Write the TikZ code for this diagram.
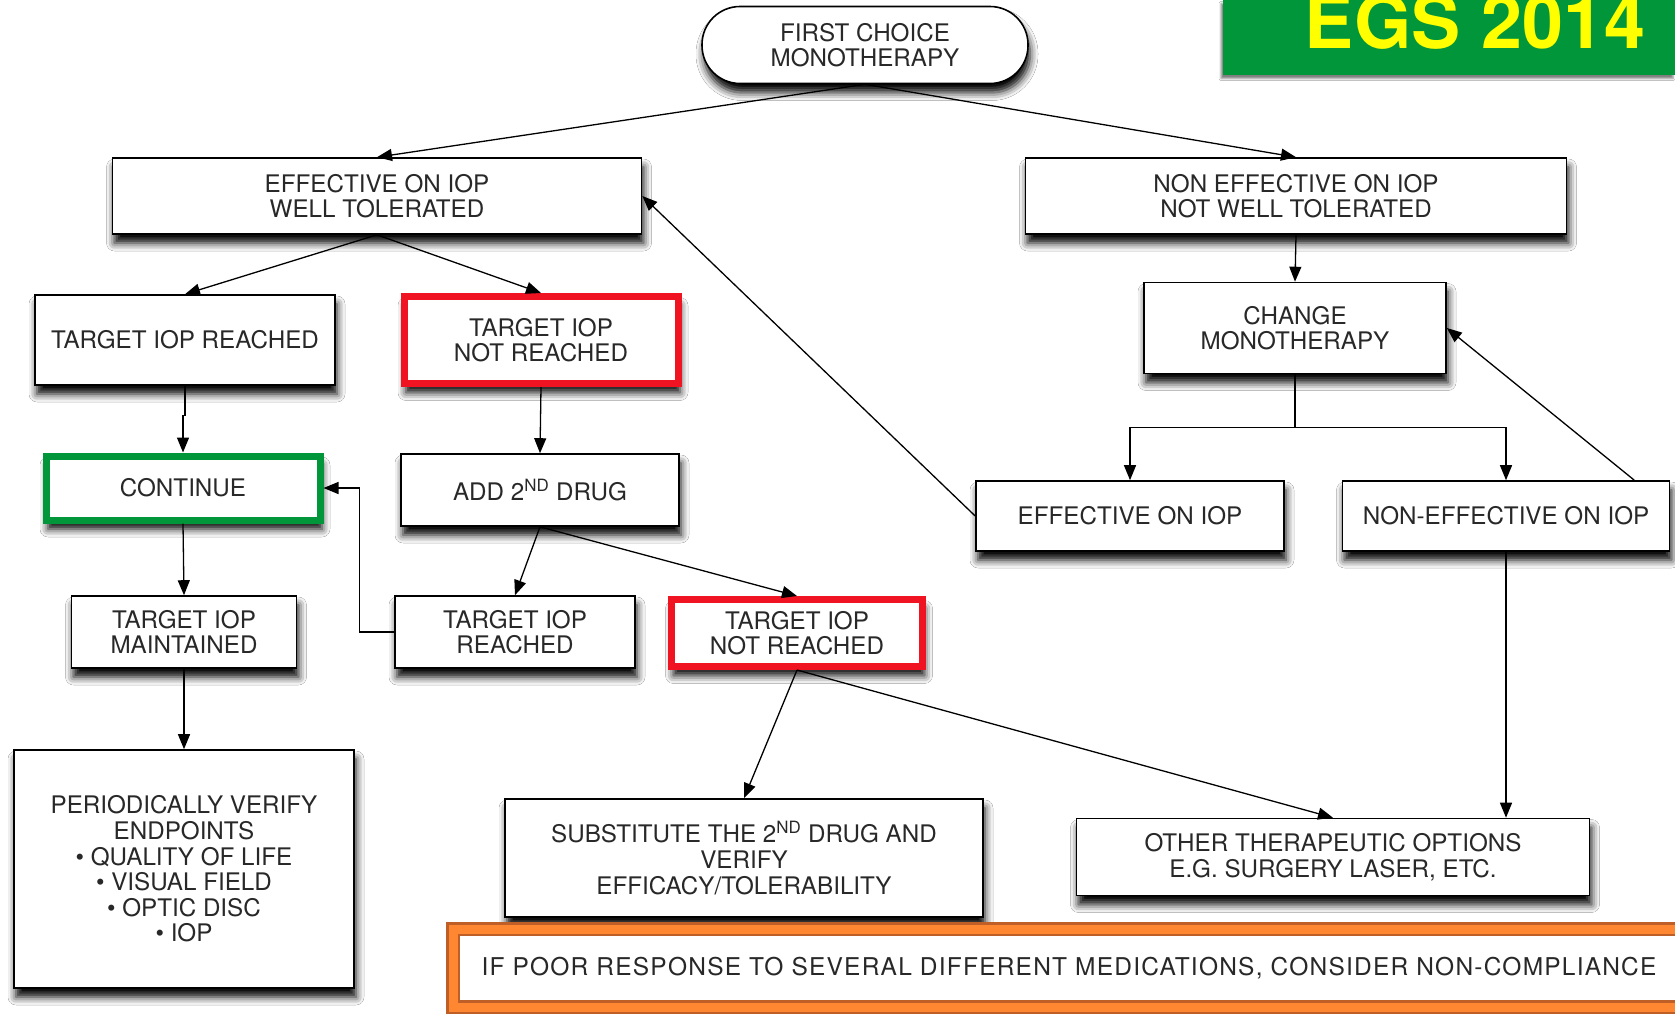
\documentclass[tikz,border=0pt]{standalone}
\usepackage{fontspec}
\setmainfont{TeX Gyre Heros}
\usepackage{tikz}
\usetikzlibrary{positioning,shapes,arrows.meta,calc,shadows,shadows.blur}
\definecolor{egsgreen}{RGB}{0,150,57}
\definecolor{egsyellow}{RGB}{255,255,0}
\definecolor{alertred}{RGB}{240,20,35}
\definecolor{noteorange}{RGB}{255,135,50}
\definecolor{notebrown}{RGB}{190,95,40}
\definecolor{textgrey}{RGB}{40,40,40}

\begin{document}
\begin{tikzpicture}[x=1pt, y=-1pt,
    >={Triangle[length=15pt, width=12pt]},
    box/.style={rectangle, draw, fill=white, line width=1.6pt, align=center, text=textgrey, inner sep=0pt,
        font=\fontsize{24.2}{25.6}\selectfont,
        blur shadow={shadow xshift=2pt, shadow yshift=-9pt, shadow blur radius=8pt, shadow opacity=100}},
    redbox/.style={box, draw=alertred, line width=7pt},
    greenbox/.style={box, draw=egsgreen, line width=7pt},
    link/.style={->, line width=1.3pt}]
    \useasboundingbox (0,0) rectangle (1675,1015);
    \fill[white] (0,0) rectangle (1675,1015);

    \node[box, rounded corners=38pt, minimum width=326pt, minimum height=77pt] (first) at (865,45) {FIRST CHOICE\\MONOTHERAPY};
    \node[rectangle, fill=egsgreen, minimum width=452pt, minimum height=75pt, inner sep=0pt,
        blur shadow={shadow xshift=-2pt, shadow yshift=-4pt, shadow blur radius=2pt, shadow opacity=50}] (egs) at (1449,37) {};
    \node[anchor=base, text=egsyellow, font=\fontsize{73.7}{80}\bfseries\selectfont, inner sep=0pt] (egslabel) at (1475,48) {EGS 2014};

    \node[box, minimum width=529pt, minimum height=76pt] (eff) at (377,196) {EFFECTIVE ON IOP\\WELL TOLERATED};
    \node[box, minimum width=541pt, minimum height=76pt] (noneff) at (1296,196) {NON EFFECTIVE ON IOP\\NOT WELL TOLERATED};
    \node[box, minimum width=300pt, minimum height=90pt] (reached) at (185,340) {TARGET IOP REACHED};
    \node[redbox, minimum width=274pt, minimum height=87pt] (notreached) at (541,340) {TARGET IOP\\NOT REACHED};
    \node[box, minimum width=302pt, minimum height=91pt] (change) at (1295,328) {CHANGE\\MONOTHERAPY};
    \node[greenbox, minimum width=274pt, minimum height=64pt] (continue) at (183,488) {CONTINUE};
    \node[box, minimum width=278pt, minimum height=72pt] (add) at (540,490) {ADD 2\textsuperscript{ND} DRUG};
    \node[box, minimum width=308pt, minimum height=70pt] (effiop) at (1130,516) {EFFECTIVE ON IOP};
    \node[box, minimum width=327pt, minimum height=70pt] (noneffiop) at (1506,516) {NON-EFFECTIVE ON IOP};
    \node[box, minimum width=225pt, minimum height=72pt] (maintained) at (184,632) {TARGET IOP\\MAINTAINED};
    \node[box, minimum width=240pt, minimum height=72pt] (reached2) at (515,632) {TARGET IOP\\REACHED};
    \node[redbox, minimum width=251pt, minimum height=67pt] (notreached2) at (797,633) {TARGET IOP\\NOT REACHED};
    \node[box, minimum width=340pt, minimum height=238pt] (verify) at (184,869) {PERIODICALLY VERIFY\\ENDPOINTS\\\textbullet\ QUALITY OF LIFE\\\textbullet\ VISUAL FIELD\\\textbullet\ OPTIC DISC\\\textbullet\ IOP};
    \node[box, minimum width=478pt, minimum height=118pt] (subst) at (744,858) {SUBSTITUTE THE 2\textsuperscript{ND} DRUG AND\\VERIFY\\EFFICACY/TOLERABILITY};
    \node[box, minimum width=513pt, minimum height=77pt] (other) at (1333,857) {OTHER THERAPEUTIC OPTIONS\\E.G. SURGERY LASER, ETC.};
    \node[rectangle, draw=notebrown, line width=2.5pt, double=noteorange, double distance=9pt, fill=white, text=textgrey,
        font=\fontsize{24.5}{25.6}\selectfont\addfontfeatures{LetterSpace=5}, minimum width=1232pt, minimum height=78pt] (poor) at (1069,968)
        {IF POOR RESPONSE TO SEVERAL DIFFERENT MEDICATIONS, CONSIDER NON-COMPLIANCE};

    \draw[link] (first.south) -- (eff.north);
    \draw[link] (first.south) -- (noneff.north);
    \draw[link] (eff.south) -- (reached.north);
    \draw[link] (eff.south) -- (notreached.north);
    \draw[link] (reached.south) -- ++(0,30) -| (continue.north);
    \draw[link] (notreached.south) -- (add.north);
    \draw[link] (continue.south) -- (maintained.north);
    \draw[link] (maintained.south) -- (verify.north);
    \draw[link] (add.south) -- (reached2.north);
    \draw[link] (add.south) -- (notreached2.north);
    \draw[link] (reached2.west) -- ++(-35,0) |- (continue.east);
    \draw[link] (notreached2.south) -- (subst.north);
    \draw[link] (notreached2.south) -- (other.north);
    \draw[link] (noneff.south) -- (change.north);
    \coordinate (split) at ($(change.south)+(0,53)$);
    \draw[link] (change.south) -- (split) -| (effiop.north);
    \draw[link] (split) -| (noneffiop.north);
    \draw[link] (effiop.west) -- (eff.east);
    \draw[link] ($(noneffiop.north east)+(-36,0)$) -- (change.east);
    \draw[link] (noneffiop.south) -- (noneffiop.south |- other.north);
\end{tikzpicture}
\end{document}
